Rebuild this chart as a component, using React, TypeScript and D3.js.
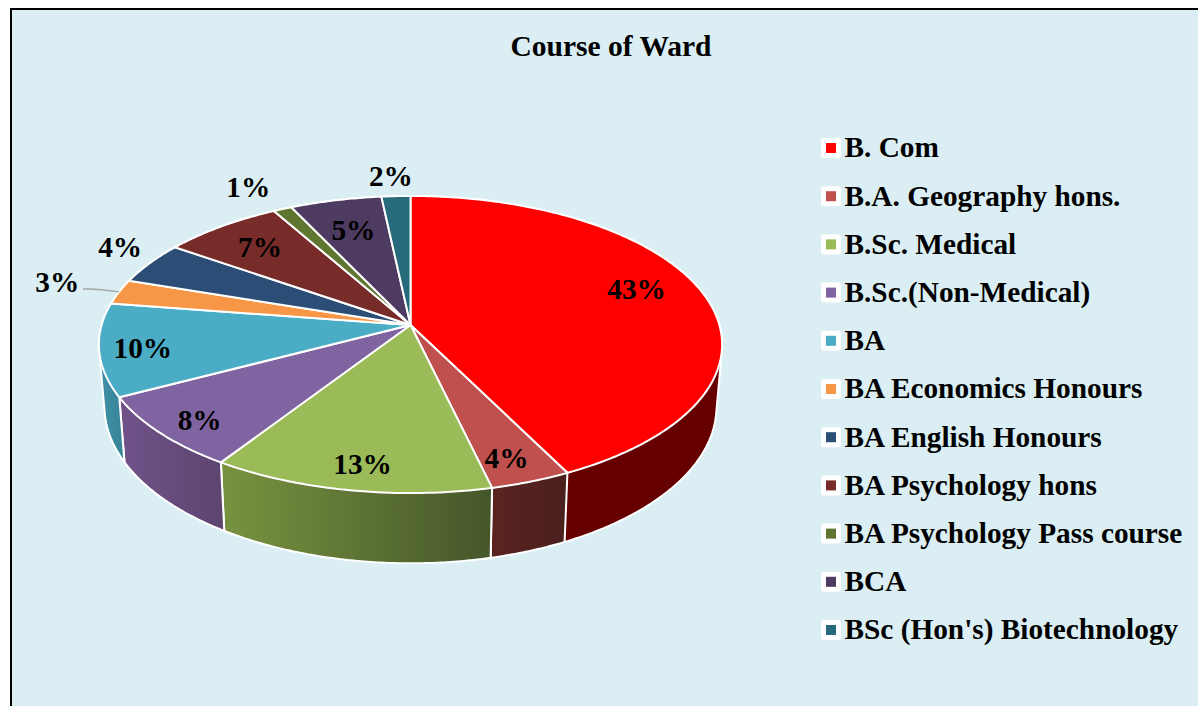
import React from "react";
import * as d3 from "d3";

const title = "Course of Ward";
const categories = [
  "B. Com",
  "B.A. Geography hons.",
  "B.Sc. Medical",
  "B.Sc.(Non-Medical)",
  "BA",
  "BA Economics Honours",
  "BA English Honours",
  "BA Psychology hons",
  "BA Psychology Pass course",
  "BCA",
  "BSc (Hon's) Biotechnology",
];
const values = [42.6, 3.7, 12.9, 8.1, 10.1, 2.7, 4.6, 7.1, 1.1, 5.4, 1.7];
const percentLabels = ["43%", "4%", "13%", "8%", "10%", "3%", "4%", "7%", "1%", "5%", "2%"];
const topColors = ["#ff0000", "#c0504d", "#9bbb59", "#8064a2", "#4bacc6", "#f79646", "#2c4d75", "#772c2a", "#5f7530", "#4d3b62", "#276a7c"];
const legendColors = ["#ff0000", "#c0504d", "#9bbb59", "#8064a2", "#4bacc6", "#f79646", "#2c4d75", "#772c2a", "#5f7530", "#4d3b62", "#276a7c"];
const wallLeft = ["#660000", "#5a2320", "#78933f", "#705289", "#3f90a8", "#a8652c", "#1d3350", "#4f1d1c", "#3f4e20", "#332742", "#1a4753"];
const wallRight = ["#660000", "#4a201e", "#45562a", "#5d4570", "#398699", "#a8652c", "#1d3350", "#4f1d1c", "#3f4e20", "#332742", "#1a4753"];

// Label placement: radial fraction on the pie + pixel nudge
const labelRadius = [0.78, 0.86, 0.86, 0.87, 0.87, 1.2, 1.08, 0.77, 1.1, 0.74, 1.12];
const labelNudgeX = [-3, -5.5, 3.5, 4.5, 2.5, -5.5, -10, -1.5, -23, 0, -3.5];
const labelNudgeY = [-10, 1, 0, 2.5, 2, -3, -11.6, 0, -11, 0, -6];

const W = 1198;
const H = 706;
const CX = 410.5;
const CY = 325;
const A = 308.9;
const B = 146;
const K = 0.1313;
const WALL_SCALE_X = 0.982;
const WALL_SCALE_Y = 1.055;
const WALL_DROP = 61;
const FONT = "'Liberation Serif', 'Times New Roman', serif";
const LABEL_SIZE = 29.3;

const rScale = d3.scaleLinear().domain([0, 1]).range([0, 1]);

function project(theta: number, r: number, bottom = false): [number, number] {
  const u = rScale(r) * Math.sin(theta);
  const v = -rScale(r) * Math.cos(theta);
  const w = 1 - K * v;
  const x = (A * u) / w;
  const y = (B * v) / w;
  if (bottom) return [CX + x * WALL_SCALE_X, CY + y * WALL_SCALE_Y + WALL_DROP];
  return [CX + x, CY + y];
}

function arcPoints(a0: number, a1: number, bottom = false): [number, number][] {
  const n = Math.max(2, Math.ceil((a1 - a0) / 0.01));
  return d3.range(n + 1).map((i) => project(a0 + ((a1 - a0) * i) / n, 1, bottom));
}

const toPath = (pts: [number, number][]) =>
  "M" + pts.map((p) => `${p[0].toFixed(2)},${p[1].toFixed(2)}`).join("L") + "Z";

export default function App() {
  const pie = d3.pie<number>().sort(null).startAngle(0).endAngle(2 * Math.PI);
  const arcs = pie(values);
  const legendY = d3.scalePoint<string>().domain(categories).range([148, 630]);

  return (
    <svg
      width={W}
      height={H}
      viewBox={`0 0 ${W} ${H}`}
      style={{ position: "absolute", left: 0, top: 0, background: "#ffffff" }}
    >
      <defs>
        {arcs.map((d, i) => {
          const xs = arcPoints(d.startAngle, d.endAngle).map((p) => p[0]);
          const lo = d3.min(xs)!;
          const hi = d3.max(xs)!;
          return (
            <linearGradient key={i} id={`wall${i}`} gradientUnits="userSpaceOnUse" x1={lo} x2={hi} y1={0} y2={0}>
              <stop offset="0" stopColor={wallLeft[i]} />
              <stop offset="1" stopColor={wallRight[i]} />
            </linearGradient>
          );
        })}
      </defs>
      <rect x={11} y={9} width={W + 20} height={H + 20} fill="#daeef3" stroke="#000000" strokeWidth={2} />
      <text x={611} y={56} textAnchor="middle" fontFamily={FONT} fontWeight="bold" fontSize={29.5} fill="#000">
        {title}
      </text>

      {arcs.map((d, i) => {
        const hull = d3.polygonHull([
          ...arcPoints(d.startAngle, d.endAngle),
          ...arcPoints(d.startAngle, d.endAngle, true),
        ]) as [number, number][];
        return (
          <path
            key={`w${i}`}
            d={toPath(hull)}
            fill={`url(#wall${i})`}
            stroke="#ffffff"
            strokeWidth={2}
            strokeLinejoin="round"
          />
        );
      })}
      {arcs.map((d, i) => (
        <path
          key={`t${i}`}
          d={toPath([project(0, 0), ...arcPoints(d.startAngle, d.endAngle)])}
          fill={topColors[i]}
          stroke="#ffffff"
          strokeWidth={2}
          strokeLinejoin="round"
        />
      ))}

      {(() => {
        const d = arcs[5];
        const mid = (d.startAngle + d.endAngle) / 2;
        const [ex, ey] = project(mid, 1);
        const sx = 83;
        const sy = 289;
        return (
          <path
            d={`M${sx},${sy}C${sx + 14},${sy - 0.5} ${sx + 24},${sy + 1} ${ex},${ey}`}
            fill="none"
            stroke="#a6a6a6"
            strokeWidth={1.4}
          />
        );
      })()}

      {arcs.map((d, i) => {
        const [x, y] = project((d.startAngle + d.endAngle) / 2, labelRadius[i]);
        return (
          <text
            key={`l${i}`}
            x={x + labelNudgeX[i]}
            y={y + labelNudgeY[i]}
            dy="0.33em"
            textAnchor="middle"
            fontFamily={FONT}
            fontWeight="bold"
            fontSize={LABEL_SIZE}
            fill="#000"
          >
            {percentLabels[i]}
          </text>
        );
      })}

      {categories.map((c, i) => {
        const y = legendY(c)!;
        return (
          <g key={c}>
            <rect x={821} y={y - 10} width={20} height={20} rx={3} fill="#ffffff" />
            <rect x={826} y={y - 5} width={10} height={10} fill={legendColors[i]} />
            <text x={844.5} y={y} dy="0.32em" fontFamily={FONT} fontWeight="bold" fontSize={LABEL_SIZE} fill="#000">
              {c}
            </text>
          </g>
        );
      })}
    </svg>
  );
}
